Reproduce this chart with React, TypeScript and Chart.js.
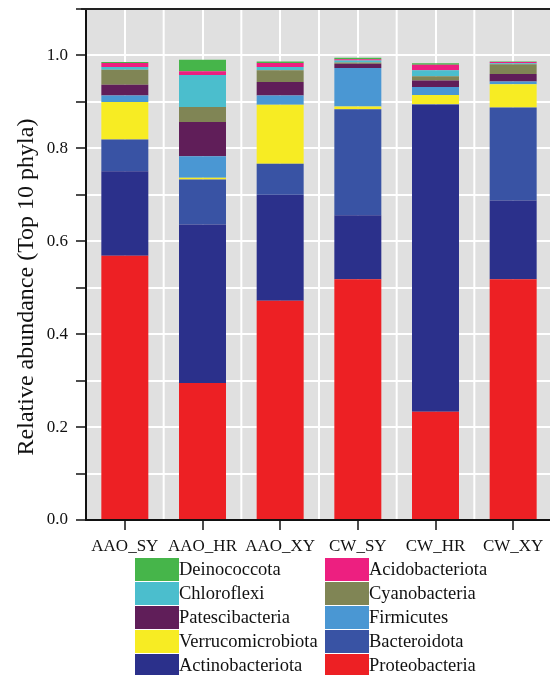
import React, { useEffect, useRef } from "react";
import { Chart, registerables } from "chart.js";

Chart.register(...registerables);

const categories = ["AAO_SY", "AAO_HR", "AAO_XY", "CW_SY", "CW_HR", "CW_XY"];

// stacked from bottom to top
const proteobacteria = [0.569, 0.295, 0.472, 0.518, 0.233, 0.518];
const actinobacteriota = [0.182, 0.341, 0.228, 0.138, 0.661, 0.170];
const bacteroidota = [0.068, 0.097, 0.067, 0.228, 0.001, 0.200];
const verrucomicrobiota = [0.081, 0.004, 0.127, 0.006, 0.020, 0.050];
const firmicutes = [0.014, 0.046, 0.020, 0.083, 0.017, 0.006];
const patescibacteria = [0.023, 0.074, 0.029, 0.009, 0.014, 0.016];
const cyanobacteria = [0.032, 0.032, 0.025, 0.003, 0.009, 0.021];
const chloroflexi = [0.006, 0.069, 0.007, 0.004, 0.013, 0.002];
const acidobacteriota = [0.009, 0.008, 0.009, 0.003, 0.012, 0.003];
const deinococcota = [0.002, 0.025, 0.003, 0.003, 0.003, 0.001];

const yTicks = [0.0, 0.2, 0.4, 0.6, 0.8, 1.0];

const seriesNames = [
  "Proteobacteria",
  "Actinobacteriota",
  "Bacteroidota",
  "Verrucomicrobiota",
  "Firmicutes",
  "Patescibacteria",
  "Cyanobacteria",
  "Chloroflexi",
  "Acidobacteriota",
  "Deinococcota",
];
const seriesValues = [
  proteobacteria,
  actinobacteriota,
  bacteroidota,
  verrucomicrobiota,
  firmicutes,
  patescibacteria,
  cyanobacteria,
  chloroflexi,
  acidobacteriota,
  deinococcota,
];
const seriesColors = [
  "#ed2024",
  "#2b308b",
  "#3953a4",
  "#f7ec23",
  "#4a97d3",
  "#601e59",
  "#808555",
  "#4bbecd",
  "#ed1f80",
  "#46b54a",
];

// legend order (two columns, row-major)
const legendOrder = [
  "Deinococcota",
  "Acidobacteriota",
  "Chloroflexi",
  "Cyanobacteria",
  "Patescibacteria",
  "Firmicutes",
  "Verrucomicrobiota",
  "Bacteroidota",
  "Actinobacteriota",
  "Proteobacteria",
];

const yTitle = "Relative abundance (Top 10 phyla)";
const SERIF = "'Liberation Serif', 'Times New Roman', serif";

const bgPlugin = {
  id: "bgGrid",
  beforeDraw(chart: any) {
    const { ctx, chartArea } = chart;
    ctx.save();
    ctx.fillStyle = "#e0e0e0";
    ctx.fillRect(chartArea.left, chartArea.top, chartArea.right - chartArea.left, chartArea.bottom - chartArea.top);
    ctx.restore();
  },
  beforeDatasetsDraw(chart: any) {
    const { ctx, chartArea, scales } = chart;
    const xs = scales.x;
    const n = categories.length;
    ctx.save();
    ctx.strokeStyle = "#ffffff";
    ctx.lineWidth = 2;
    for (let i = 1; i < n; i++) {
      const x = (xs.getPixelForValue(i - 1) + xs.getPixelForValue(i)) / 2;
      ctx.beginPath();
      ctx.moveTo(x, chartArea.top);
      ctx.lineTo(x, chartArea.bottom - 1);
      ctx.stroke();
    }
    ctx.restore();
  },
  afterDraw(chart: any) {
    const { ctx, chartArea } = chart;
    ctx.save();
    ctx.strokeStyle = "#222";
    ctx.lineWidth = 2;
    ctx.beginPath();
    ctx.moveTo(chartArea.left - 5, chartArea.top);
    ctx.lineTo(chartArea.right, chartArea.top);
    ctx.stroke();
    // y-axis title
    ctx.translate(27, 287);
    ctx.rotate(-Math.PI / 2);
    ctx.fillStyle = "#111";
    ctx.font = `24px ${SERIF}`;
    ctx.textAlign = "center";
    ctx.textBaseline = "middle";
    ctx.fillText(yTitle, 0, 0);
    ctx.restore();
  },
};

export default function App() {
  const canvasRef = useRef<HTMLCanvasElement | null>(null);

  useEffect(() => {
    if (!canvasRef.current) return;
    const chart = new Chart(canvasRef.current, {
      type: "bar",
      data: {
        labels: categories,
        datasets: seriesNames.map((name, i) => ({
          label: name,
          data: seriesValues[i],
          backgroundColor: seriesColors[i],
          borderWidth: 0,
          barPercentage: 0.605,
          categoryPercentage: 1,
        })),
      },
      options: {
        responsive: false,
        animation: false,
        devicePixelRatio: 1,
        layout: { padding: { top: 9, left: 0, right: 0, bottom: 0 } },
        plugins: {
          legend: { display: false },
          tooltip: { enabled: false },
        },
        scales: {
          x: {
            stacked: true,
            offset: true,
            afterFit: (s: any) => {
              s.height = 40;
              s.paddingLeft = 0;
              s.paddingRight = 0;
            },
            grid: {
              offset: false,
              color: "#ffffff",
              lineWidth: 2,
              tickColor: "#111",
              tickLength: 10,
              tickWidth: 1.5,
            },
            border: { color: "#111", width: 2 },
            ticks: {
              color: "#111",
              padding: 6,
              font: { family: SERIF, size: 17 },
              maxRotation: 0,
            },
          },
          y: {
            stacked: true,
            min: 0,
            max: 1.1,
            afterFit: (s: any) => {
              s.width = 86;
              s.paddingTop = 0;
              s.paddingBottom = 0;
            },
            grid: {
              color: "#ffffff",
              lineWidth: 2,
              tickColor: "#111",
              tickLength: 10,
              tickWidth: 1.5,
            },
            border: { color: "#111", width: 2 },
            ticks: {
              stepSize: 0.1,
              color: "#111",
              padding: 8,
              font: { family: SERIF, size: 17 },
              callback: (v: any) => {
                const val = Number(v);
                const hit = yTicks.find((t) => Math.abs(t - val) < 1e-6);
                return hit === undefined ? "" : hit.toFixed(1);
              },
            },
          },
        },
      },
      plugins: [bgPlugin],
    });
    return () => chart.destroy();
  }, []);

  const colorOf = (name: string) => seriesColors[seriesNames.indexOf(name)];

  return (
    <div
      style={{
        position: "fixed",
        left: 0,
        top: 0,
        width: 550,
        height: 675,
        overflow: "hidden",
        background: "#fff",
      }}
    >
      <canvas
        ref={canvasRef}
        width={552}
        height={560}
        style={{ position: "absolute", left: 0, top: 0, width: 552, height: 560 }}
      />
      {legendOrder.map((name, i) => {
        const col = i % 2;
        const row = Math.floor(i / 2);
        const left = col === 0 ? 135 : 325;
        const top = 558 + row * 24;
        return (
          <div
            key={name}
            style={{
              position: "absolute",
              left,
              top,
              height: 23,
              display: "flex",
              alignItems: "center",
              fontFamily: SERIF,
              fontSize: 18.5,
              color: "#111",
              whiteSpace: "nowrap",
            }}
          >
            <div style={{ width: 44, height: 23, background: colorOf(name) }} />
            <span>{name}</span>
          </div>
        );
      })}
    </div>
  );
}
